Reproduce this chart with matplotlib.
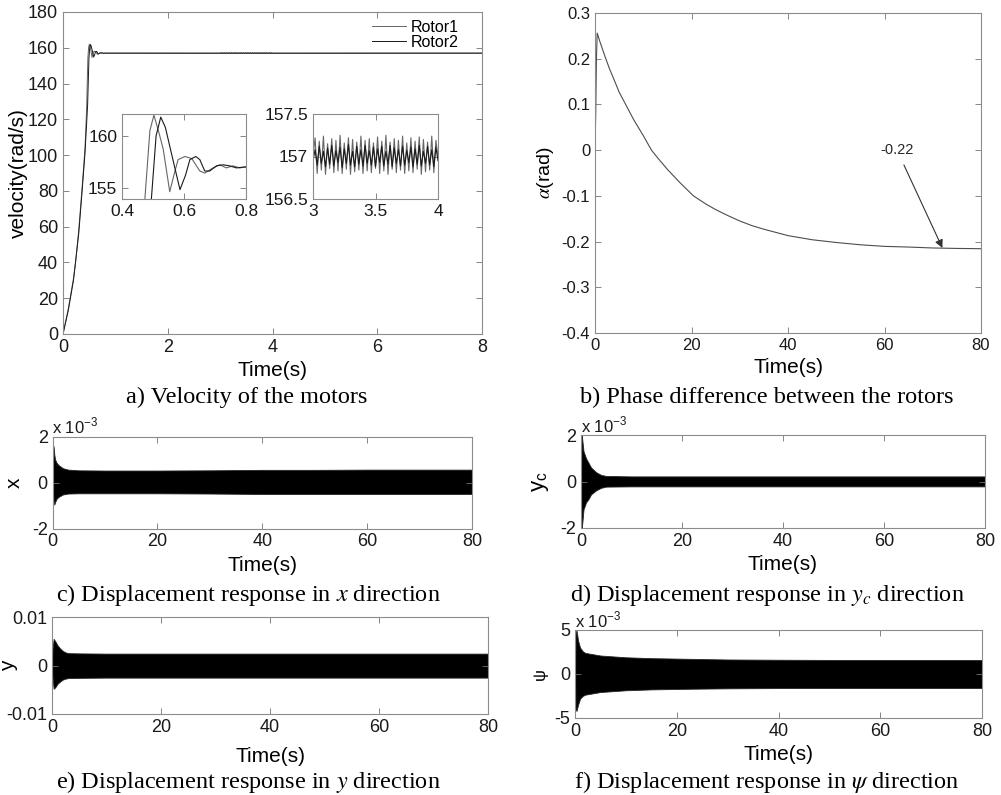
import matplotlib
matplotlib.use('Agg')
import matplotlib.pyplot as plt
import numpy as np

plt.rcParams['font.family'] = ['Liberation Sans', 'DejaVu Sans']
plt.rcParams['mathtext.fontset'] = 'stix'
plt.rcParams['axes.unicode_minus'] = False

# ---- a) motor velocity ----
rotor1_t = [0, 0.1, 0.2, 0.24, 0.3, 0.36, 0.42, 0.45, 0.474, 0.49, 0.503, 0.52, 0.533, 0.554,
            0.57, 0.581, 0.603, 0.625, 0.651, 0.667, 0.694, 0.715, 0.737, 0.758, 0.78, 0.8]
rotor1_v = [0, 14, 31, 40, 58, 80, 104, 125, 154, 160.5, 162.0, 160.2, 158.7, 154.6,
            156.5, 157.7, 158.0, 157.8, 156.6, 156.4, 156.9, 157.2, 156.9, 157.1, 156.9, 157.0]
rotor2_t = [0, 0.1, 0.2, 0.3, 0.36, 0.42, 0.47, 0.495, 0.51, 0.525, 0.54, 0.554, 0.587,
            0.605, 0.619, 0.638, 0.651, 0.667, 0.683, 0.705, 0.726, 0.747, 0.769, 0.8]
rotor2_v = [0, 13, 30, 56, 78, 101, 128, 154, 160.0, 161.8, 160.8, 159.0, 154.8,
            156.2, 157.7, 158.0, 157.7, 156.6, 156.6, 157.1, 157.2, 157.1, 156.9, 157.0]

# steady state detail, 3 s .. 4 s
rotor1_ss = [157.0, 157.22, 156.80, 157.18, 156.84, 157.24, 156.79, 157.15, 156.86, 157.21,
             156.81, 157.19, 156.83, 157.25, 156.80, 157.16, 156.85, 157.22, 156.79, 157.20,
             156.82, 157.17, 156.84, 157.24, 156.80, 157.19, 156.83, 157.21, 156.81, 157.16,
             156.86, 157.23, 156.80, 157.18, 156.83, 157.25, 156.79, 157.17, 156.85, 157.21,
             156.81, 157.19, 156.84, 157.24, 156.80, 157.16, 156.83, 157.22, 156.81, 157.18,
             156.85, 157.23, 156.79, 157.20, 156.82, 157.17, 156.84, 157.24, 156.81, 157.19, 157.0]
rotor2_ss = [156.95, 157.08, 156.90, 157.12, 156.92, 157.06, 156.88, 157.10, 156.91, 157.13,
             156.89, 157.07, 156.93, 157.11, 156.87, 157.09, 156.92, 157.14, 156.90, 157.06,
             156.88, 157.12, 156.91, 157.08, 156.89, 157.13, 156.92, 157.07, 156.90, 157.11,
             156.88, 157.09, 156.93, 157.12, 156.89, 157.06, 156.91, 157.13, 156.88, 157.10,
             156.92, 157.08, 156.89, 157.12, 156.90, 157.07, 156.93, 157.11, 156.88, 157.09,
             156.91, 157.13, 156.89, 157.06, 156.92, 157.12, 156.90, 157.08, 156.88, 157.11, 156.95]
ss_start, ss_end = 3.0, 4.0
t_end, v_end = 8.0, 157.0

# ---- b) phase difference ----
phase_t = [0, 0.15, 0.3, 0.45, 1, 2, 3, 4, 5, 6.6, 8, 10, 11.7, 13, 15, 17.5, 20.4, 23, 25,
           27.5, 30, 32.5, 35, 37.5, 40, 45, 50, 55, 60, 65, 70, 75, 80]
phase_a = [0, 0.08, 0.2, 0.256, 0.238, 0.207, 0.178, 0.153, 0.127, 0.095, 0.067, 0.032, 0.0,
           -0.017, -0.042, -0.07, -0.1, -0.118, -0.13, -0.143, -0.155, -0.165, -0.173, -0.18,
           -0.187, -0.196, -0.202, -0.207, -0.2105, -0.212, -0.214, -0.215, -0.2156]
phase_note = '-0.22'
note_t, note_a = 72, -0.214

# ---- c-f) displacement envelopes (units of 1e-3) ----
x_t = [0, 0.1, 0.2, 0.35, 0.5, 0.8, 1.2, 2, 3, 5, 10, 20, 30, 40, 50, 60, 70, 80]
x_up = [0, 1.0, 1.58, 1.2, 1.0, 0.85, 0.75, 0.62, 0.56, 0.53, 0.52, 0.52, 0.53, 0.55, 0.55, 0.56, 0.56, 0.56]
x_lo = [0, -0.5, -0.8, -0.96, -0.85, -0.7, -0.62, -0.52, -0.48, -0.47, -0.47, -0.47, -0.48, -0.5, -0.5, -0.5, -0.5, -0.5]

yc_t = [0, 0.1, 0.25, 0.5, 1, 1.5, 2, 3, 4, 5, 10, 80]
yc_up = [0, 2.0, 1.8, 1.3, 1.0, 0.8, 0.6, 0.4, 0.28, 0.24, 0.22, 0.22]
yc_lo = [0, -2.0, -1.8, -1.2, -0.9, -0.75, -0.55, -0.38, -0.27, -0.22, -0.21, -0.21]

y_t = [0, 0.1, 0.3, 0.6, 1, 1.5, 2, 2.5, 3, 5, 10, 80]
y_up = [0, 3.5, 5.5, 5.0, 4.2, 3.5, 3.0, 2.7, 2.55, 2.5, 2.45, 2.45]
y_lo = [0, -2.5, -4.8, -4.5, -3.8, -3.3, -2.9, -2.7, -2.6, -2.55, -2.5, -2.5]

psi_t = [0, 0.1, 0.3, 0.6, 1, 1.5, 2, 3, 5, 10, 15, 20, 25, 30, 40, 50, 60, 70, 80]
psi_up = [0, 4.5, 5.0, 3.8, 3.0, 2.6, 2.4, 2.3, 2.1, 1.9, 1.8, 1.75, 1.7, 1.65, 1.62, 1.6, 1.6, 1.6, 1.6]
psi_lo = [0, -4.0, -4.2, -3.5, -2.8, -2.5, -2.35, -2.25, -2.05, -1.85, -1.75, -1.7, -1.66, -1.63, -1.6, -1.6, -1.6, -1.6, -1.6]

captions = ['a) Velocity of the motors', 'b) Phase difference between the rotors',
            'c) Displacement response in $x$ direction', 'd) Displacement response in $y_c$ direction',
            'e) Displacement response in $y$ direction', 'f) Displacement response in $\\psi$ direction']

W, H = 1001, 795
fig = plt.figure(figsize=(W / 100, H / 100), dpi=100)


def px_axes(x0, x1, y0, y1):
    return fig.add_axes([x0 / W, 1 - y1 / H, (x1 - x0) / W, (y1 - y0) / H])


def style(ax, fs):
    for s in ax.spines.values():
        s.set_color('0.55')
        s.set_linewidth(0.8)
    ax.tick_params(direction='in', top=True, right=True, length=4, width=0.6,
                   color='0.45', labelsize=fs, labelcolor='0.1')


c1, c2 = '0.4', '0.1'

# a)
ax_a = px_axes(63, 482, 12, 334)
t1 = rotor1_t + list(np.linspace(ss_start, ss_end, len(rotor1_ss))) + [t_end]
v1 = rotor1_v + rotor1_ss + [v_end]
t2 = rotor2_t + list(np.linspace(ss_start, ss_end, len(rotor2_ss))) + [t_end]
v2 = rotor2_v + rotor2_ss + [v_end]
ax_a.plot(t1, v1, color=c1, lw=0.7, label='Rotor1')
ax_a.plot(t2, v2, color=c2, lw=0.7, label='Rotor2')
ax_a.set_xlim(0, 8)
ax_a.set_ylim(0, 180)
ax_a.set_xticks(range(0, 9, 2))
ax_a.set_yticks(range(0, 181, 20))
style(ax_a, 13)
ax_a.set_xlabel('Time(s)', fontsize=15, labelpad=4)
ax_a.set_ylabel('velocity(rad/s)', fontsize=15, labelpad=0)
ax_a.legend(loc='upper left', bbox_to_anchor=((372 - 63) / 419, 1 - (20 - 12) / 322),
            frameon=False, fontsize=11.5, handlelength=2.1, handletextpad=0.3,
            labelspacing=0.0, borderpad=0, borderaxespad=0)

in1 = px_axes(122, 246, 114, 199)
in1.plot(rotor1_t, rotor1_v, color=c1, lw=0.8)
in1.plot(rotor2_t, rotor2_v, color=c2, lw=0.8)
in1.set_xlim(0.4, 0.8)
in1.set_ylim(153.9, 162.1)
in1.set_xticks([0.4, 0.6, 0.8])
in1.set_xticklabels(['0.4', '0.6', '0.8'])
in1.set_yticks([155, 160])
style(in1, 12.5)

in2 = px_axes(313, 438, 114, 199)
in2.plot(np.linspace(ss_start, ss_end, len(rotor1_ss)), rotor1_ss, color=c1, lw=0.8)
in2.plot(np.linspace(ss_start, ss_end, len(rotor2_ss)), rotor2_ss, color=c2, lw=0.8)
in2.set_xlim(3, 4)
in2.set_ylim(156.5, 157.5)
in2.set_xticks([3, 3.5, 4])
in2.set_xticklabels(['3', '3.5', '4'])
in2.set_yticks([156.5, 157, 157.5])
in2.set_yticklabels(['156.5', '157', '157.5'])
style(in2, 12.5)

# b)
ax_b = px_axes(595, 981, 13, 333)
ax_b.plot(phase_t, phase_a, color='0.3', lw=0.8)
ax_b.set_xlim(0, 80)
ax_b.set_ylim(-0.4, 0.3)
ax_b.set_xticks(range(0, 81, 20))
ax_b.set_yticks([-0.4, -0.3, -0.2, -0.1, 0, 0.1, 0.2, 0.3])
ax_b.set_yticklabels(['-0.4', '-0.3', '-0.2', '-0.1', '0', '0.1', '0.2', '0.3'])
style(ax_b, 12)
ax_b.set_xlabel('Time(s)', fontsize=15, labelpad=4)
ax_b.set_ylabel(r'$\alpha$(rad)', fontsize=14, labelpad=4)
ax_b.annotate(phase_note, xy=(note_t, note_a), xytext=(62.6, 0.0),
              ha='center', va='center', fontsize=10.5, color='0.15',
              arrowprops=dict(arrowstyle='-|>', color='0.2', lw=0.8, shrinkA=4, shrinkB=0,
                              mutation_scale=12))


def band(rect, t, up, lo, ylim, ticks, labels, ylabel, ylfs, lab_x, lpad=4, offset=True):
    ax = px_axes(*rect)
    scale = 1e-3
    ax.fill_between(t, np.array(lo) * scale, np.array(up) * scale, color='black', lw=0.6,
                    edgecolor='0.15')
    ax.set_xlim(0, 80)
    ax.set_ylim(ylim[0] * scale, ylim[1] * scale)
    ax.set_xticks(range(0, 81, 20))
    ax.set_yticks([v * scale for v in ticks])
    ax.set_yticklabels(labels)
    style(ax, 13)
    ax.set_xlabel('Time(s)', fontsize=15, labelpad=lpad)
    ax.set_ylabel(ylabel, fontsize=ylfs, rotation=90)
    ax.yaxis.set_label_coords(lab_x, 0.5)
    if offset:
        ax.text(0.0, 1.0, r'x 10$^{\mathregular{-3}}$', transform=ax.transAxes,
                fontsize=12, ha='left', va='bottom', color='0.1')
    return ax


band((52.5, 472, 436.5, 528.5), x_t, x_up, x_lo, (-2, 2), [-2, 0, 2], ['-2', '0', '2'],
     'x', 15, -0.068)
band((581, 985, 435, 528), yc_t, yc_up, yc_lo, (-2, 2), [-2, 0, 2], ['-2', '0', '2'],
     r'$\mathregular{y_c}$', 16, -0.075)
band((52, 488, 617, 714), y_t, y_up, y_lo, (-10, 10), [-10, 0, 10], ['-0.01', '0', '0.01'],
     'y', 15, -0.078, lpad=8, offset=False)
band((575, 982, 630, 718), psi_t, psi_up, psi_lo, (-5, 5), [-5, 0, 5], ['-5', '0', '5'],
     'ψ', 12, -0.066)

cap_pos = [(247, 397), (767, 397), (248, 595), (767, 595), (248, 782), (767, 782)]
for text, (cx, cy) in zip(captions, cap_pos):
    fig.text(cx / W, 1 - cy / H, text, ha='center', va='center', fontsize=17.5,
             family=['Liberation Serif', 'DejaVu Serif'])

fig.savefig('out.png', dpi=100)
